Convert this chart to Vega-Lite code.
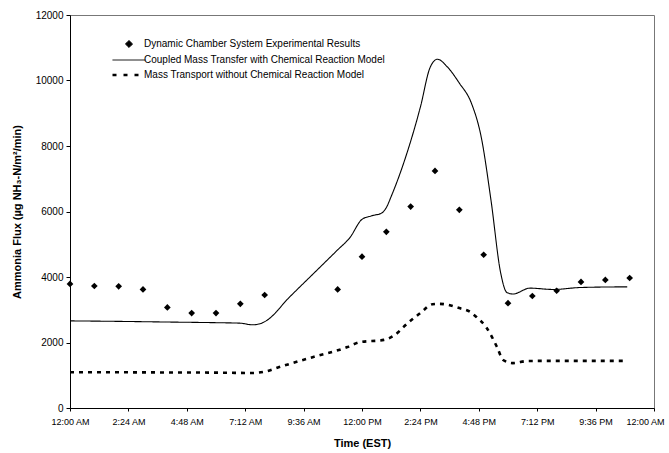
{
  "$schema": "https://vega.github.io/schema/vega-lite/v6.json",
  "width": 584,
  "height": 393,
  "autosize": {"type": "none"},
  "padding": {"left": 70, "top": 15, "right": 15, "bottom": 45},
  "background": "white",
  "config": {
    "font": "Liberation Sans",
    "view": {"stroke": "#777777", "strokeWidth": 1},
    "axis": {"labelFont": "Liberation Sans", "titleFont": "Liberation Sans", "labelColor": "black", "titleColor": "black", "domainColor": "black", "tickColor": "black", "grid": false, "labelFontSize": 10, "titleFontSize": 11, "titleFontWeight": "bold"},
    "legend": {"labelFont": "Liberation Sans", "labelFontSize": 10, "labelColor": "black", "labelLimit": 400}
  },
  "datasets": {
    "obs": [
      {"hour": 0, "flux": 3790, "series": "Dynamic Chamber System Experimental Results"},
      {"hour": 1, "flux": 3725, "series": "Dynamic Chamber System Experimental Results"},
      {"hour": 2, "flux": 3715, "series": "Dynamic Chamber System Experimental Results"},
      {"hour": 3, "flux": 3620, "series": "Dynamic Chamber System Experimental Results"},
      {"hour": 4, "flux": 3070, "series": "Dynamic Chamber System Experimental Results"},
      {"hour": 5, "flux": 2900, "series": "Dynamic Chamber System Experimental Results"},
      {"hour": 6, "flux": 2900, "series": "Dynamic Chamber System Experimental Results"},
      {"hour": 7, "flux": 3180, "series": "Dynamic Chamber System Experimental Results"},
      {"hour": 8, "flux": 3450, "series": "Dynamic Chamber System Experimental Results"},
      {"hour": 11, "flux": 3620, "series": "Dynamic Chamber System Experimental Results"},
      {"hour": 12, "flux": 4620, "series": "Dynamic Chamber System Experimental Results"},
      {"hour": 13, "flux": 5380, "series": "Dynamic Chamber System Experimental Results"},
      {"hour": 14, "flux": 6150, "series": "Dynamic Chamber System Experimental Results"},
      {"hour": 15, "flux": 7240, "series": "Dynamic Chamber System Experimental Results"},
      {"hour": 16, "flux": 6050, "series": "Dynamic Chamber System Experimental Results"},
      {"hour": 17, "flux": 4680, "series": "Dynamic Chamber System Experimental Results"},
      {"hour": 18, "flux": 3200, "series": "Dynamic Chamber System Experimental Results"},
      {"hour": 19, "flux": 3420, "series": "Dynamic Chamber System Experimental Results"},
      {"hour": 20, "flux": 3580, "series": "Dynamic Chamber System Experimental Results"},
      {"hour": 21, "flux": 3850, "series": "Dynamic Chamber System Experimental Results"},
      {"hour": 22, "flux": 3910, "series": "Dynamic Chamber System Experimental Results"},
      {"hour": 23, "flux": 3970, "series": "Dynamic Chamber System Experimental Results"}
    ],
    "model": [
      {"hour": 0, "flux": 2660, "series": "Coupled Mass Transfer with Chemical Reaction Model"},
      {"hour": 2, "flux": 2645, "series": "Coupled Mass Transfer with Chemical Reaction Model"},
      {"hour": 4, "flux": 2625, "series": "Coupled Mass Transfer with Chemical Reaction Model"},
      {"hour": 6, "flux": 2605, "series": "Coupled Mass Transfer with Chemical Reaction Model"},
      {"hour": 7, "flux": 2590, "series": "Coupled Mass Transfer with Chemical Reaction Model"},
      {"hour": 7.5, "flux": 2540, "series": "Coupled Mass Transfer with Chemical Reaction Model"},
      {"hour": 7.8, "flux": 2570, "series": "Coupled Mass Transfer with Chemical Reaction Model"},
      {"hour": 8.1, "flux": 2680, "series": "Coupled Mass Transfer with Chemical Reaction Model"},
      {"hour": 9, "flux": 3370, "series": "Coupled Mass Transfer with Chemical Reaction Model"},
      {"hour": 10, "flux": 4100, "series": "Coupled Mass Transfer with Chemical Reaction Model"},
      {"hour": 11, "flux": 4830, "series": "Coupled Mass Transfer with Chemical Reaction Model"},
      {"hour": 11.5, "flux": 5200, "series": "Coupled Mass Transfer with Chemical Reaction Model"},
      {"hour": 12, "flux": 5760, "series": "Coupled Mass Transfer with Chemical Reaction Model"},
      {"hour": 12.4, "flux": 5870, "series": "Coupled Mass Transfer with Chemical Reaction Model"},
      {"hour": 12.8, "flux": 5950, "series": "Coupled Mass Transfer with Chemical Reaction Model"},
      {"hour": 13.0, "flux": 6120, "series": "Coupled Mass Transfer with Chemical Reaction Model"},
      {"hour": 13.2, "flux": 6460, "series": "Coupled Mass Transfer with Chemical Reaction Model"},
      {"hour": 13.85, "flux": 7790, "series": "Coupled Mass Transfer with Chemical Reaction Model"},
      {"hour": 14.4, "flux": 9190, "series": "Coupled Mass Transfer with Chemical Reaction Model"},
      {"hour": 14.8, "flux": 10400, "series": "Coupled Mass Transfer with Chemical Reaction Model"},
      {"hour": 15.1, "flux": 10650, "series": "Coupled Mass Transfer with Chemical Reaction Model"},
      {"hour": 15.5, "flux": 10420, "series": "Coupled Mass Transfer with Chemical Reaction Model"},
      {"hour": 16.0, "flux": 9920, "series": "Coupled Mass Transfer with Chemical Reaction Model"},
      {"hour": 16.5, "flux": 9300, "series": "Coupled Mass Transfer with Chemical Reaction Model"},
      {"hour": 16.9, "flux": 8270, "series": "Coupled Mass Transfer with Chemical Reaction Model"},
      {"hour": 17.3, "flux": 6350, "series": "Coupled Mass Transfer with Chemical Reaction Model"},
      {"hour": 17.7, "flux": 4120, "series": "Coupled Mass Transfer with Chemical Reaction Model"},
      {"hour": 17.95, "flux": 3530, "series": "Coupled Mass Transfer with Chemical Reaction Model"},
      {"hour": 18.2, "flux": 3480, "series": "Coupled Mass Transfer with Chemical Reaction Model"},
      {"hour": 18.9, "flux": 3660, "series": "Coupled Mass Transfer with Chemical Reaction Model"},
      {"hour": 19.85, "flux": 3620, "series": "Coupled Mass Transfer with Chemical Reaction Model"},
      {"hour": 21, "flux": 3680, "series": "Coupled Mass Transfer with Chemical Reaction Model"},
      {"hour": 22.9, "flux": 3700, "series": "Coupled Mass Transfer with Chemical Reaction Model"},
      {"hour": 0, "flux": 1090, "series": "Mass Transport without Chemical Reaction Model"},
      {"hour": 2, "flux": 1090, "series": "Mass Transport without Chemical Reaction Model"},
      {"hour": 4, "flux": 1085, "series": "Mass Transport without Chemical Reaction Model"},
      {"hour": 6, "flux": 1080, "series": "Mass Transport without Chemical Reaction Model"},
      {"hour": 7.5, "flux": 1070, "series": "Mass Transport without Chemical Reaction Model"},
      {"hour": 8, "flux": 1110, "series": "Mass Transport without Chemical Reaction Model"},
      {"hour": 8.6, "flux": 1250, "series": "Mass Transport without Chemical Reaction Model"},
      {"hour": 10, "flux": 1560, "series": "Mass Transport without Chemical Reaction Model"},
      {"hour": 11.4, "flux": 1860, "series": "Mass Transport without Chemical Reaction Model"},
      {"hour": 11.9, "flux": 2010, "series": "Mass Transport without Chemical Reaction Model"},
      {"hour": 12.9, "flux": 2080, "series": "Mass Transport without Chemical Reaction Model"},
      {"hour": 13.5, "flux": 2320, "series": "Mass Transport without Chemical Reaction Model"},
      {"hour": 13.7, "flux": 2470, "series": "Mass Transport without Chemical Reaction Model"},
      {"hour": 14.4, "flux": 2900, "series": "Mass Transport without Chemical Reaction Model"},
      {"hour": 14.9, "flux": 3170, "series": "Mass Transport without Chemical Reaction Model"},
      {"hour": 15.2, "flux": 3180, "series": "Mass Transport without Chemical Reaction Model"},
      {"hour": 16.0, "flux": 3050, "series": "Mass Transport without Chemical Reaction Model"},
      {"hour": 16.45, "flux": 2930, "series": "Mass Transport without Chemical Reaction Model"},
      {"hour": 16.7, "flux": 2780, "series": "Mass Transport without Chemical Reaction Model"},
      {"hour": 17.1, "flux": 2470, "series": "Mass Transport without Chemical Reaction Model"},
      {"hour": 17.55, "flux": 1860, "series": "Mass Transport without Chemical Reaction Model"},
      {"hour": 17.8, "flux": 1465, "series": "Mass Transport without Chemical Reaction Model"},
      {"hour": 18.2, "flux": 1370, "series": "Mass Transport without Chemical Reaction Model"},
      {"hour": 18.8, "flux": 1435, "series": "Mass Transport without Chemical Reaction Model"},
      {"hour": 20, "flux": 1440, "series": "Mass Transport without Chemical Reaction Model"},
      {"hour": 22.9, "flux": 1440, "series": "Mass Transport without Chemical Reaction Model"}
    ]
  },
  "encoding": {
    "x": {
      "field": "hour", "type": "quantitative",
      "scale": {"domain": [0, 24], "nice": false, "zero": false},
      "axis": {
        "title": "Time (EST)",
        "values": [0, 2.4, 4.8, 7.2, 9.6, 12, 14.4, 16.8, 19.2, 21.6, 24],
        "labelExpr": "timeFormat(datetime(2000, 0, 1, 0, round(datum.value * 60)), '%-I:%M %p')",
        "labelFontSize": 9,
        "labelOffset": {"expr": "datum.value >= 23.9 ? -9 : 0"},
        "tickSize": 3, "labelPadding": 6, "titlePadding": 11, "labelFlush": false
      }
    },
    "y": {
      "field": "flux", "type": "quantitative",
      "scale": {"domain": [0, 12000], "nice": false},
      "axis": {
        "title": "Ammonia Flux (µg NH₃-N/m²/min)",
        "values": [0, 2000, 4000, 6000, 8000, 10000, 12000],
        "format": "d", "tickSize": 4, "labelPadding": 3, "titlePadding": 13
      }
    },
    "color": {
      "field": "series", "type": "nominal",
      "scale": {
        "domain": ["Dynamic Chamber System Experimental Results", "Coupled Mass Transfer with Chemical Reaction Model", "Mass Transport without Chemical Reaction Model"],
        "range": ["black", "black", "black"]
      },
      "legend": {
        "title": null, "orient": "none", "legendX": 54, "legendY": 24,
        "symbolSize": 1089, "rowPadding": 5, "labelOffset": 10,
        "symbolType": "stroke",
        "encode": {
          "symbols": {
            "update": {
              "shape": {"signal": "datum.value == 'Dynamic Chamber System Experimental Results' ? 'diamond' : 'stroke'"},
              "size": {"signal": "datum.value == 'Dynamic Chamber System Experimental Results' ? 50 : 1089"},
              "fill": {"signal": "datum.value == 'Dynamic Chamber System Experimental Results' ? 'black' : 'transparent'"},
              "stroke": {"value": "black"},
              "strokeWidth": {"signal": "datum.value == 'Mass Transport without Chemical Reaction Model' ? 2.5 : 1"},
              "strokeDash": {"signal": "datum.value == 'Mass Transport without Chemical Reaction Model' ? [4, 7] : [1, 0]"}
            }
          }
        }
      }
    }
  },
  "layer": [
    {
      "data": {"name": "model"},
      "mark": {"type": "line", "interpolate": "monotone"},
      "encoding": {
        "strokeDash": {
          "field": "series", "type": "nominal",
          "scale": {
            "domain": ["Coupled Mass Transfer with Chemical Reaction Model", "Mass Transport without Chemical Reaction Model"],
            "range": [[1, 0], [4, 5]]
          },
          "legend": null
        },
        "strokeWidth": {
          "field": "series", "type": "nominal",
          "scale": {
            "domain": ["Coupled Mass Transfer with Chemical Reaction Model", "Mass Transport without Chemical Reaction Model"],
            "range": [1.1, 2.6]
          },
          "legend": null
        }
      }
    },
    {
      "data": {"name": "obs"},
      "mark": {"type": "point", "shape": "diamond", "filled": true, "size": 45, "opacity": 1}
    }
  ]
}
